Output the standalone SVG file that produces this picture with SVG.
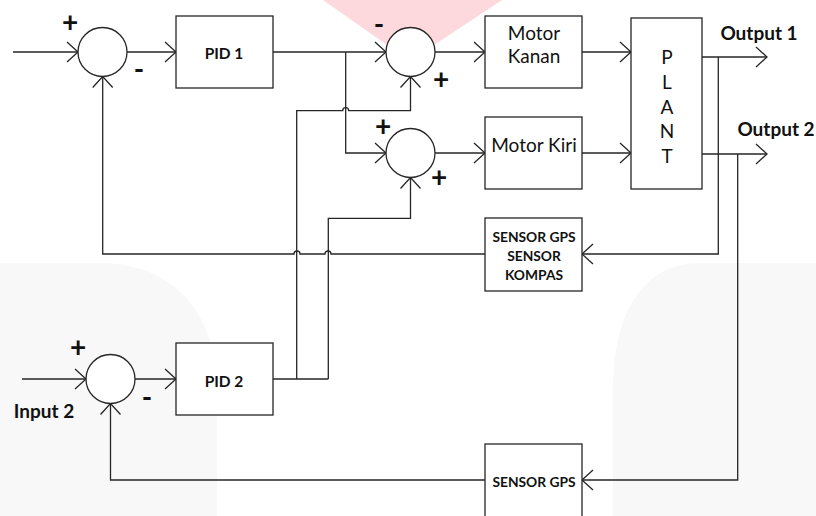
<svg xmlns="http://www.w3.org/2000/svg" width="816" height="516" viewBox="0 0 816 516">
<style>
.ln{fill:none;stroke:#262626;stroke-width:1.3}
.bx{fill:#fff;stroke:#262626;stroke-width:1.3}
.sm{fill:#fff;stroke:#262626;stroke-width:1.3}
text{font-family:Lato,"Liberation Sans",sans-serif;fill:#111;text-anchor:middle;dominant-baseline:central}
.sg{font-weight:bold;font-size:28px}
.lb{font-size:19px}
.pid{font-weight:bold;font-size:15.5px}
.sen{font-weight:bold;font-size:13.8px}
.out{font-weight:bold;font-size:19px}
</style>
<defs>
<marker id="ar" viewBox="-12 -11 13 22" refX="0" refY="0" markerWidth="13" markerHeight="22" markerUnits="userSpaceOnUse" orient="auto">
<path d="M-11,-10 L0,0 L-11,10" fill="none" stroke="#262626" stroke-width="1.3"/>
</marker>
</defs>
<g id="background">
<polygon points="323,0 502,0 410,61" fill="#fdd8dc"/>
<path d="M0,263 H100 C170,263 217,310 217,390 V516 H0 Z" fill="#f8f8f8"/>
<path d="M816,263 H700 C645,263 613,310 613,390 V516 H816 Z" fill="#f8f8f8"/>
</g>
<g id="connectors">
<path class="ln" d="M13,52 H78" marker-end="url(#ar)"/>
<path class="ln" d="M127,52 H176" marker-end="url(#ar)"/>
<path class="ln" d="M273,52 H386" marker-end="url(#ar)"/>
<path class="ln" d="M345.7,52 V153 H386" marker-end="url(#ar)"/>
<path class="ln" d="M435,52 H485" marker-end="url(#ar)"/>
<path class="ln" d="M435,153 H485" marker-end="url(#ar)"/>
<path class="ln" d="M582,52 H631" marker-end="url(#ar)"/>
<path class="ln" d="M582,153 H631" marker-end="url(#ar)"/>
<path class="ln" d="M702,57 H767" marker-end="url(#ar)"/>
<path class="ln" d="M702,154 H767" marker-end="url(#ar)"/>
<path class="ln" d="M718.3,57 V254 H582" marker-end="url(#ar)"/>
<path class="ln" d="M485,254 H331 A3,3 0 0 0 325,254 H300 A3,3 0 0 0 294,254 H102.7 V76.5" marker-end="url(#ar)"/>
<path class="ln" d="M737.7,154 V480 H582" marker-end="url(#ar)"/>
<path class="ln" d="M485,480 H110.5 V403.5" marker-end="url(#ar)"/>
<path class="ln" d="M22,379 H86" marker-end="url(#ar)"/>
<path class="ln" d="M135,379 H176" marker-end="url(#ar)"/>
<path class="ln" d="M273,379 H328.3"/>
<path class="ln" d="M296.7,379 V110.7 H342.7 A3,3 0 0 1 348.7,110.7 H410.5 V76.5" marker-end="url(#ar)"/>
<path class="ln" d="M328.3,379 V218.3 H410.5 V177.5" marker-end="url(#ar)"/>
</g>
<g id="sum1"><circle class="sm" cx="102.5" cy="52" r="24.5"/><text class="sg" x="70" y="21">+</text><text class="sg" x="139" y="68">-</text></g>
<g id="pid1"><rect class="bx" x="176" y="16" width="97" height="72"/><text class="pid" x="224" y="53">PID 1</text></g>
<g id="sum2"><circle class="sm" cx="410.5" cy="52" r="24.5"/><text class="sg" x="379" y="23">-</text><text class="sg" x="441" y="78">+</text></g>
<g id="sum3"><circle class="sm" cx="410.5" cy="153" r="24.5"/><text class="sg" x="383" y="125">+</text><text class="sg" x="439" y="176">+</text></g>
<g id="motor-kanan"><rect class="bx" x="485" y="16" width="97" height="72"/><text class="lb" x="534" y="32">Motor</text><text class="lb" x="534" y="55">Kanan</text></g>
<g id="motor-kiri"><rect class="bx" x="485" y="117" width="97" height="72"/><text class="lb" x="534" y="144">Motor Kiri</text></g>
<g id="plant"><rect class="bx" x="631" y="18" width="71" height="171"/>
<text class="lb" x="667" y="56">P</text><text class="lb" x="667" y="81">L</text><text class="lb" x="667" y="106">A</text><text class="lb" x="667" y="130">N</text><text class="lb" x="667" y="155">T</text></g>
<g id="output1"><text class="out" x="759" y="32">Output 1</text></g>
<g id="output2"><text class="out" x="776" y="128">Output 2</text></g>
<g id="sensor1"><rect class="bx" x="485" y="218" width="97" height="73"/><text class="sen" x="534" y="236">SENSOR GPS</text><text class="sen" x="534" y="255">SENSOR</text><text class="sen" x="534" y="274">KOMPAS</text></g>
<g id="sum4"><circle class="sm" cx="110.5" cy="379" r="24.5"/><text class="sg" x="78" y="346">+</text><text class="sg" x="147" y="396">-</text></g>
<g id="input2"><text class="out" x="44" y="410">Input 2</text></g>
<g id="pid2"><rect class="bx" x="176" y="343" width="97" height="72"/><text class="pid" x="224" y="381">PID 2</text></g>
<g id="sensor2"><rect class="bx" x="485" y="444" width="97" height="74"/><text class="sen" x="534" y="481">SENSOR GPS</text></g>
</svg>
